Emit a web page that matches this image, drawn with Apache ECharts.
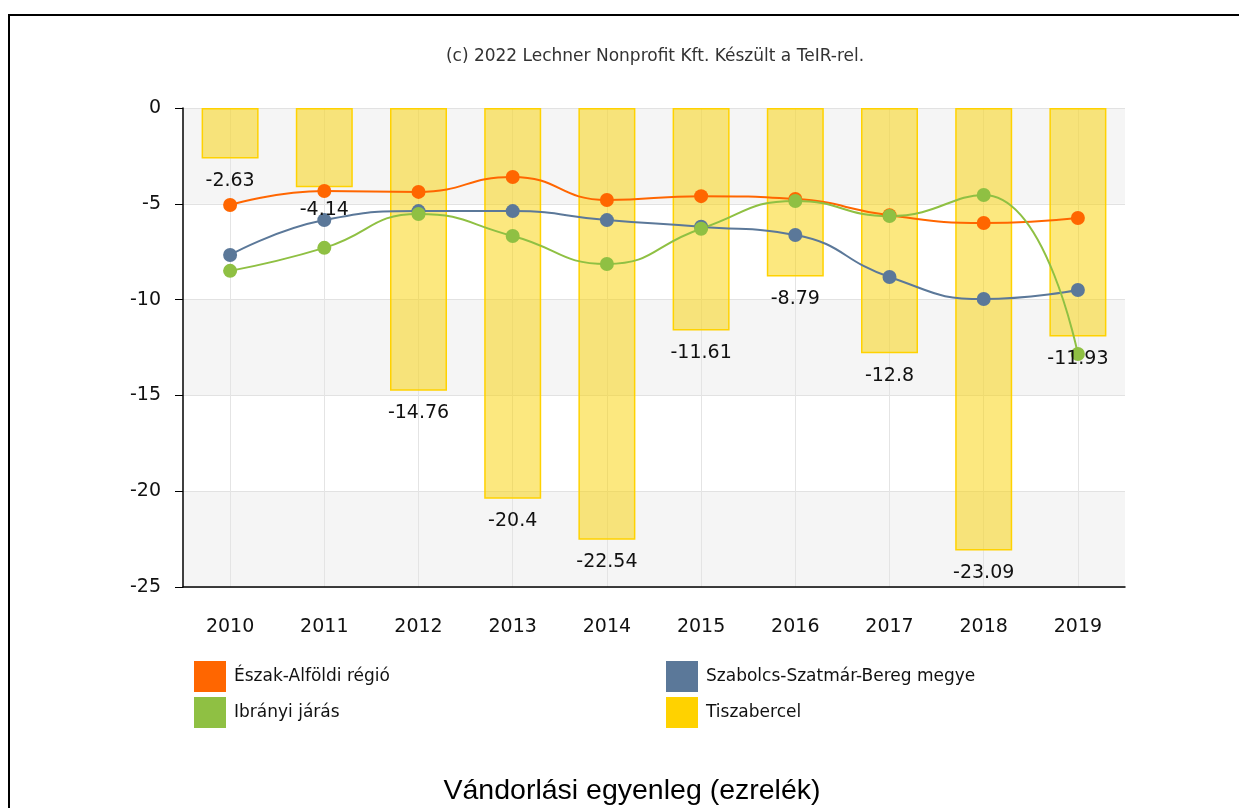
<!DOCTYPE html>
<html>
<head>
<meta charset="utf-8">
<title>Vándorlási egyenleg (ezrelék)</title>
<script src="https://cdn.jsdelivr.net/npm/echarts@6/dist/echarts.min.js"></script>
<style>
  html, body { margin: 0; padding: 0; background: #fff; overflow: hidden; }
  #frame {
    position: absolute; left: 8px; top: 14px;
    width: 1400px; height: 1000px;
    border: 2px solid #000; box-sizing: border-box;
  }
  #chart { position: absolute; left: 0; top: 0; width: 1239px; height: 808px; }
</style>
</head>
<body>
<div id="frame"></div>
<div id="chart"></div>
<script>
const years = ['2010', '2011', '2012', '2013', '2014', '2015', '2016', '2017', '2018', '2019'];
const eszakAlfoldi = [-5.06, -4.33, -4.38, -3.6, -4.8, -4.6, -4.75, -5.6, -6.0, -5.74];
const szabolcs = [-7.67, -5.85, -5.38, -5.38, -5.85, -6.2, -6.63, -8.82, -9.97, -9.5];
const ibranyi = [-8.5, -7.3, -5.53, -6.68, -8.14, -6.3, -4.85, -5.64, -4.54, -12.84];
const tiszabercel = [-2.63, -4.14, -14.76, -20.4, -22.54, -11.61, -8.79, -12.8, -23.09, -11.93];
const yTicks = { min: -25, max: 0, step: 5 };

const FONT = '"DejaVu Sans", Verdana, sans-serif';
const chart = echarts.init(document.getElementById('chart'));

function lineSeries(name, data, color) {
  return {
    name, type: 'line', data, smooth: 0.5, z: 3,
    symbol: 'circle', symbolSize: 14,
    lineStyle: { color, width: 2 },
    itemStyle: { color },
    emphasis: { disabled: true }
  };
}

const legendBase = {
  top: 661, orient: 'vertical', icon: 'rect', padding: 0,
  itemWidth: 32, itemHeight: 31, itemGap: 5, selectedMode: false,
  textStyle: { fontSize: 17, color: '#111', fontFamily: FONT, padding: [2, 0, 0, 3] }
};

chart.setOption({
  animation: false,
  textStyle: { fontFamily: FONT },
  graphic: [
    {
      type: 'text', x: 655, y: 57,
      style: {
        text: '(c) 2022 Lechner Nonprofit Kft. Készült a TeIR-rel.',
        font: '17px ' + FONT, fill: '#333',
        textAlign: 'center', textVerticalAlign: 'middle'
      }
    },
    {
      type: 'text', x: 632, y: 791,
      style: {
        text: 'Vándorlási egyenleg (ezrelék)',
        font: '28.5px "Liberation Sans", Arial, sans-serif', fill: '#000',
        textAlign: 'center', textVerticalAlign: 'middle'
      }
    }
  ],
  legend: [
    Object.assign({}, legendBase, {
      left: 194,
      data: [
        { name: 'Észak-Alföldi régió', itemStyle: { color: '#FF6600', borderWidth: 0 } },
        { name: 'Ibrányi járás', itemStyle: { color: '#8FC043', borderWidth: 0 } }
      ]
    }),
    Object.assign({}, legendBase, {
      left: 666,
      data: [
        { name: 'Szabolcs-Szatmár-Bereg megye', itemStyle: { color: '#5B7899', borderWidth: 0 } },
        { name: 'Tiszabercel', itemStyle: { color: '#FFD200', borderWidth: 0 } }
      ]
    })
  ],
  grid: { left: 183, right: 114, top: 108, bottom: 221, containLabel: false },
  xAxis: {
    type: 'category',
    data: years,
    position: 'bottom',
    axisLine: { onZero: false, lineStyle: { color: '#000', width: 1.5 } },
    axisTick: { alignWithLabel: true, length: 8, lineStyle: { color: '#000' } },
    axisLabel: { color: '#111', fontSize: 19, margin: 31, fontFamily: FONT },
    splitLine: { show: true, alignWithLabel: true, lineStyle: { color: '#e4e4e4', width: 1 } }
  },
  yAxis: {
    type: 'value',
    min: yTicks.min, max: yTicks.max, interval: yTicks.step,
    axisLine: { show: true, lineStyle: { color: '#000', width: 1.5 } },
    axisTick: { show: true, length: 8, lineStyle: { color: '#000' } },
    axisLabel: { color: '#111', fontSize: 19, margin: 22, fontFamily: FONT, padding: [3, 0, 0, 0] },
    splitLine: { lineStyle: { color: '#e2e2e2', width: 1 } },
    splitArea: { show: true, areaStyle: { color: ['#f5f5f5', '#ffffff'] } }
  },
  series: [
    {
      name: 'Tiszabercel', type: 'bar', data: tiszabercel, barWidth: 57, z: 2,
      itemStyle: { color: 'rgba(250,210,10,0.52)', borderColor: '#FFD200', borderWidth: 1.5 },
      emphasis: { disabled: true }
    },
    lineSeries('Észak-Alföldi régió', eszakAlfoldi, '#FF6600'),
    lineSeries('Szabolcs-Szatmár-Bereg megye', szabolcs, '#5B7899'),
    lineSeries('Ibrányi járás', ibranyi, '#8FC043'),
    {
      // label-only copy of the bars so values sit above the lines
      name: 'Tiszabercel címkék', type: 'bar', data: tiszabercel, barWidth: 57,
      barGap: '-100%', z: 6, silent: true,
      itemStyle: { color: 'rgba(0,0,0,0)' },
      label: {
        show: true, position: 'bottom', distance: 13,
        color: '#111', fontSize: 19, fontFamily: FONT
      },
      emphasis: { disabled: true }
    }
  ]
});
</script>
</body>
</html>
